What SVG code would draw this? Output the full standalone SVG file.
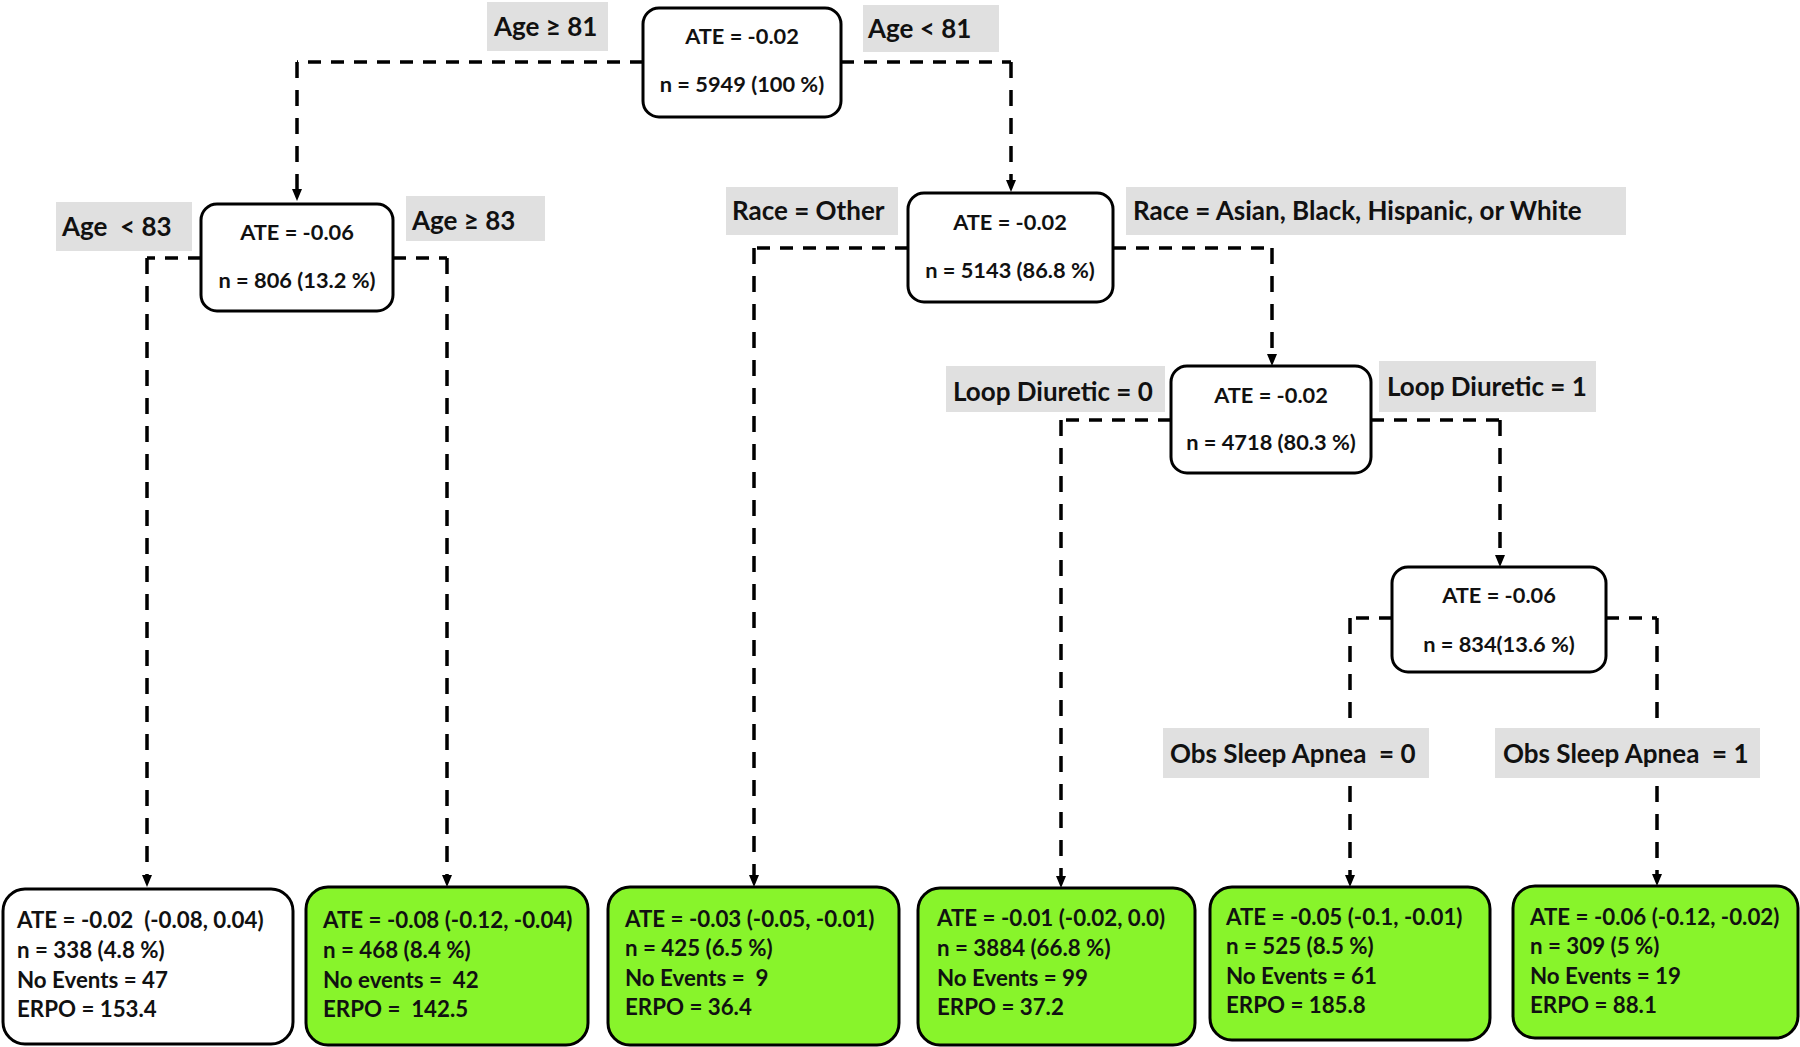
<svg xmlns="http://www.w3.org/2000/svg" width="1800" height="1047" viewBox="0 0 1800 1047">
<style>
  .node { fill: #ffffff; stroke: #000; stroke-width: 3; }
  .leaf { stroke: #000; stroke-width: 3; }
  .green { fill: #88f42b; }
  .white { fill: #ffffff; }
  .lbl { fill: #e0e0e0; }
  .t { font-family: Lato, "Liberation Sans", sans-serif; font-weight: bold; fill: #111; }
  .tn { font-size: 21.8px; text-anchor: middle; }
  .tl { font-size: 22.3px; }
  .tb { font-size: 26px; white-space: pre; }
  .h { fill: none; stroke: #000; stroke-width: 3.5; stroke-dasharray: 13 10; }
  .v { fill: none; stroke: #000; stroke-width: 3.5; stroke-dasharray: 16 12; }
</style>
<defs>
  <marker id="arr" markerUnits="userSpaceOnUse" markerWidth="12" markerHeight="12" refX="0" refY="5" orient="auto">
    <path d="M0,0 L12,5 L0,10 z" fill="#000"/>
  </marker>
</defs>
<rect x="0" y="0" width="1800" height="1047" fill="#ffffff"/>

<g id="connectors">
  <g id="e-root-left"><path class="h" d="M643,62 H297"/><path class="v" d="M297,62 V189" marker-end="url(#arr)"/></g>
  <g id="e-root-right"><path class="h" d="M841,62 H1011"/><path class="v" d="M1011,62 V180" marker-end="url(#arr)"/></g>
  <g id="e-a-left"><path class="h" d="M201,258 H147"/><path class="v" d="M147,258 V875" marker-end="url(#arr)"/></g>
  <g id="e-a-right"><path class="h" d="M393,258 H447"/><path class="v" d="M447,258 V875" marker-end="url(#arr)"/></g>
  <g id="e-b-left"><path class="h" d="M908,248 H754"/><path class="v" d="M754,248 V875" marker-end="url(#arr)"/></g>
  <g id="e-b-right"><path class="h" d="M1113,248 H1272"/><path class="v" d="M1272,248 V354" marker-end="url(#arr)"/></g>
  <g id="e-c-left"><path class="h" d="M1171,420 H1061"/><path class="v" d="M1061,420 V876" marker-end="url(#arr)"/></g>
  <g id="e-c-right"><path class="h" d="M1371,420 H1500"/><path class="v" d="M1500,420 V555" marker-end="url(#arr)"/></g>
  <g id="e-d-left"><path class="h" d="M1392,618 H1350"/><path class="v" d="M1350,618 V875" marker-end="url(#arr)"/></g>
  <g id="e-d-right"><path class="h" d="M1606,618 H1657"/><path class="v" d="M1657,618 V874" marker-end="url(#arr)"/></g>
</g>

<g id="labels">
  <g id="lbl-age-ge81"><rect class="lbl" x="487" y="2" width="121" height="49"/><text class="t tb" x="494" y="36">Age ≥ 81</text></g>
  <g id="lbl-age-lt81"><rect class="lbl" x="863" y="5" width="136" height="47"/><text class="t tb" x="868" y="38">Age &lt; 81</text></g>
  <g id="lbl-age-lt83"><rect class="lbl" x="56" y="202" width="136" height="49"/><text class="t tb" x="62" y="236">Age  &lt; 83</text></g>
  <g id="lbl-age-ge83"><rect class="lbl" x="406" y="196" width="139" height="45"/><text class="t tb" x="412" y="230">Age ≥ 83</text></g>
  <g id="lbl-race-other"><rect class="lbl" x="726" y="187" width="172" height="48"/><text class="t tb" x="732" y="220">Race = Other</text></g>
  <g id="lbl-race-abhw"><rect class="lbl" x="1126" y="187" width="500" height="48"/><text class="t tb" x="1133" y="220">Race = Asian, Black, Hispanic, or White</text></g>
  <g id="lbl-loop0"><rect class="lbl" x="946" y="366" width="219" height="46"/><text class="t tb" x="953" y="401">Loop Diuretic = 0</text></g>
  <g id="lbl-loop1"><rect class="lbl" x="1379" y="361" width="217" height="51"/><text class="t tb" x="1387" y="396">Loop Diuretic = 1</text></g>
  <g id="lbl-osa0"><rect class="lbl" x="1163" y="728" width="266" height="50"/><text class="t tb" x="1170" y="763">Obs Sleep Apnea  = 0</text></g>
  <g id="lbl-osa1"><rect class="lbl" x="1495" y="728" width="265" height="50"/><text class="t tb" x="1503" y="763">Obs Sleep Apnea  = 1</text></g>
</g>

<g id="node-root">
  <rect class="node" x="643" y="8" width="198" height="109" rx="16"/>
  <text class="t tn" x="742" y="44">ATE = -0.02</text>
  <text class="t tn" x="742" y="92">n = 5949 (100 %)</text>
</g>
<g id="node-a">
  <rect class="node" x="201" y="204" width="192" height="107" rx="16"/>
  <text class="t tn" x="297" y="240">ATE = -0.06</text>
  <text class="t tn" x="297" y="288">n = 806 (13.2 %)</text>
</g>
<g id="node-b">
  <rect class="node" x="908" y="193" width="205" height="109" rx="16"/>
  <text class="t tn" x="1010" y="230">ATE = -0.02</text>
  <text class="t tn" x="1010" y="278">n = 5143 (86.8 %)</text>
</g>
<g id="node-c">
  <rect class="node" x="1171" y="366" width="200" height="107" rx="16"/>
  <text class="t tn" x="1271" y="403">ATE = -0.02</text>
  <text class="t tn" x="1271" y="450">n = 4718 (80.3 %)</text>
</g>
<g id="node-d">
  <rect class="node" x="1392" y="567" width="214" height="105" rx="16"/>
  <text class="t tn" x="1499" y="603">ATE = -0.06</text>
  <text class="t tn" x="1499" y="652">n = 834(13.6 %)</text>
</g>

<g id="leaf-1">
  <rect class="leaf white" x="3" y="889" width="290" height="155" rx="22"/>
  <text class="t tl" x="17" y="928" style="white-space:pre">ATE = -0.02  (-0.08, 0.04)</text>
  <text class="t tl" x="17" y="958">n = 338 (4.8 %)</text>
  <text class="t tl" x="17" y="988">No Events = 47</text>
  <text class="t tl" x="17" y="1017">ERPO = 153.4</text>
</g>
<g id="leaf-2">
  <rect class="leaf green" x="306" y="887" width="282" height="158" rx="22"/>
  <text class="t tl" x="323" y="928">ATE = -0.08 (-0.12, -0.04)</text>
  <text class="t tl" x="323" y="958">n = 468 (8.4 %)</text>
  <text class="t tl" x="323" y="988" style="white-space:pre">No events =  42</text>
  <text class="t tl" x="323" y="1017" style="white-space:pre">ERPO =  142.5</text>
</g>
<g id="leaf-3">
  <rect class="leaf green" x="608" y="887" width="291" height="158" rx="22"/>
  <text class="t tl" x="625" y="927">ATE = -0.03 (-0.05, -0.01)</text>
  <text class="t tl" x="625" y="956">n = 425 (6.5 %)</text>
  <text class="t tl" x="625" y="986" style="white-space:pre">No Events =  9</text>
  <text class="t tl" x="625" y="1015">ERPO = 36.4</text>
</g>
<g id="leaf-4">
  <rect class="leaf green" x="918" y="888" width="277" height="157" rx="22"/>
  <text class="t tl" x="937" y="926">ATE = -0.01 (-0.02, 0.0)</text>
  <text class="t tl" x="937" y="956">n = 3884 (66.8 %)</text>
  <text class="t tl" x="937" y="986">No Events = 99</text>
  <text class="t tl" x="937" y="1015">ERPO = 37.2</text>
</g>
<g id="leaf-5">
  <rect class="leaf green" x="1210" y="887" width="280" height="153" rx="22"/>
  <text class="t tl" x="1226" y="925">ATE = -0.05 (-0.1, -0.01)</text>
  <text class="t tl" x="1226" y="954">n = 525 (8.5 %)</text>
  <text class="t tl" x="1226" y="984">No Events = 61</text>
  <text class="t tl" x="1226" y="1013">ERPO = 185.8</text>
</g>
<g id="leaf-6">
  <rect class="leaf green" x="1513" y="886" width="285" height="152" rx="22"/>
  <text class="t tl" x="1530" y="925">ATE = -0.06 (-0.12, -0.02)</text>
  <text class="t tl" x="1530" y="954">n = 309 (5 %)</text>
  <text class="t tl" x="1530" y="984">No Events = 19</text>
  <text class="t tl" x="1530" y="1013">ERPO = 88.1</text>
</g>
</svg>
